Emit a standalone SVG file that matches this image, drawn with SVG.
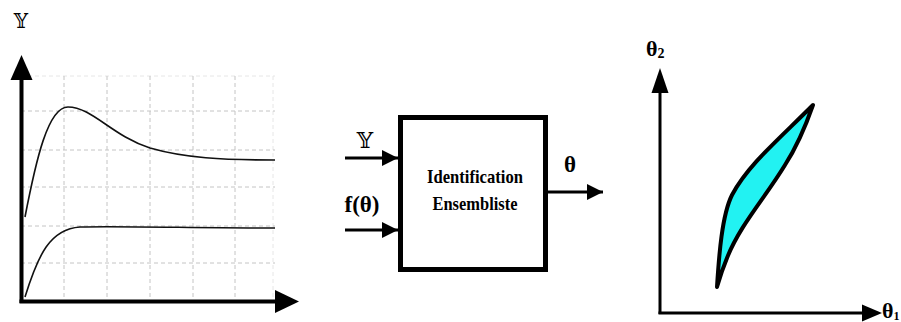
<svg xmlns="http://www.w3.org/2000/svg" width="901" height="322" viewBox="0 0 901 322">
<style>
.grid{stroke:#c4c4c4;stroke-width:1;stroke-dasharray:4 3;fill:none}
.gridf{stroke:#e6e6e6;stroke-width:1;stroke-dasharray:4 3;fill:none}
.curve{stroke:#111;stroke-width:1.6;fill:none}
.axis{stroke:#000;fill:none}
.lbl{font-weight:700;fill:#000}
.ds{fill:#000}
.conn{stroke:#000;stroke-width:3;fill:none}
</style>
<defs>
<marker id="ah" markerUnits="userSpaceOnUse" markerWidth="18" markerHeight="18" refX="16" refY="8" orient="auto">
<polygon points="0,0 16,8 0,16" fill="#000"/>
</marker>
</defs>

<g id="plot-response">
<text class="ds" font-family="DejaVu Serif, DejaVu Sans, serif" x="21" y="28" font-size="20" text-anchor="middle">𝕐</text>
<g class="gridf">
<line x1="21" y1="76" x2="275" y2="76"/>
<line x1="273" y1="76" x2="273" y2="300"/>
</g>
<g class="grid">
<line x1="21" y1="111" x2="275" y2="111"/>
<line x1="21" y1="150" x2="275" y2="150"/>
<line x1="21" y1="187" x2="275" y2="187"/>
<line x1="21" y1="226" x2="275" y2="226"/>
<line x1="21" y1="263" x2="275" y2="263"/>
<line x1="64" y1="76" x2="64" y2="300"/>
<line x1="107" y1="76" x2="107" y2="300"/>
<line x1="150" y1="76" x2="150" y2="300"/>
<line x1="193" y1="76" x2="193" y2="300"/>
<line x1="235" y1="76" x2="235" y2="300"/>
</g>
<path class="curve" d="M25,217 C36,160 48,107 68,107 C92,107 112,136 150,148 C185,158 222,160 275,160"/>
<path class="curve" d="M25,297 C38,255 50,229 80,227 C120,226 200,228 275,228"/>
<line class="axis" x1="21.5" y1="78" x2="21.5" y2="303" stroke-width="4"/>
<line class="axis" x1="19.5" y1="301.5" x2="277" y2="301.5" stroke-width="4"/>
<polygon points="21.5,55 10.5,80 32.5,80" fill="#000"/>
<polygon points="299,301.5 275,290 275,313" fill="#000"/>
</g>

<g id="block">
<rect x="400.5" y="117.5" width="145" height="152" fill="#fff" stroke="#000" stroke-width="5"/>
<text class="lbl" font-family="Liberation Serif, serif" x="475" y="183" font-size="19" text-anchor="middle" textLength="96" lengthAdjust="spacingAndGlyphs">Identification</text>
<text class="lbl" font-family="Liberation Serif, serif" x="475" y="210" font-size="19" text-anchor="middle" textLength="85" lengthAdjust="spacingAndGlyphs">Ensembliste</text>
</g>

<g id="connectors">
<line class="conn" x1="345" y1="158" x2="398" y2="158" marker-end="url(#ah)"/>
<line class="conn" x1="345" y1="230" x2="398" y2="230" marker-end="url(#ah)"/>
<line class="conn" x1="548" y1="192" x2="603" y2="192" marker-end="url(#ah)"/>
<text class="ds" font-family="DejaVu Serif, DejaVu Sans, serif" x="365" y="148" font-size="23" text-anchor="middle">𝕐</text>
<text class="lbl" font-family="Liberation Serif, serif" x="362" y="212" font-size="23" text-anchor="middle">f(θ)</text>
<text class="lbl" font-family="Liberation Serif, serif" x="570" y="172" font-size="23" text-anchor="middle">θ</text>
</g>

<g id="plot-parameters">
<path d="M717,287 C719,255 722,215 732,195 C748,165 778,140 813,105 C806,125 798,145 785,165 C765,198 740,225 727,258 C722,270 719,280 717,287 Z" fill="#22f2f2" stroke="#000" stroke-width="4" stroke-linejoin="round"/>
<line class="axis" x1="660" y1="90" x2="660" y2="314" stroke-width="3"/>
<line class="axis" x1="658.5" y1="313" x2="866" y2="313" stroke-width="3"/>
<polygon points="660,68 651.5,93 668.5,93" fill="#000"/>
<polygon points="882,313 862,304.5 862,321.5" fill="#000"/>
<text class="lbl" font-family="Liberation Serif, serif" x="646" y="56" font-size="22">θ<tspan font-size="14" dy="2">2</tspan></text>
<text class="lbl" font-family="Liberation Serif, serif" x="882" y="318" font-size="22">θ<tspan font-size="12" dy="2">1</tspan></text>
</g>
</svg>
